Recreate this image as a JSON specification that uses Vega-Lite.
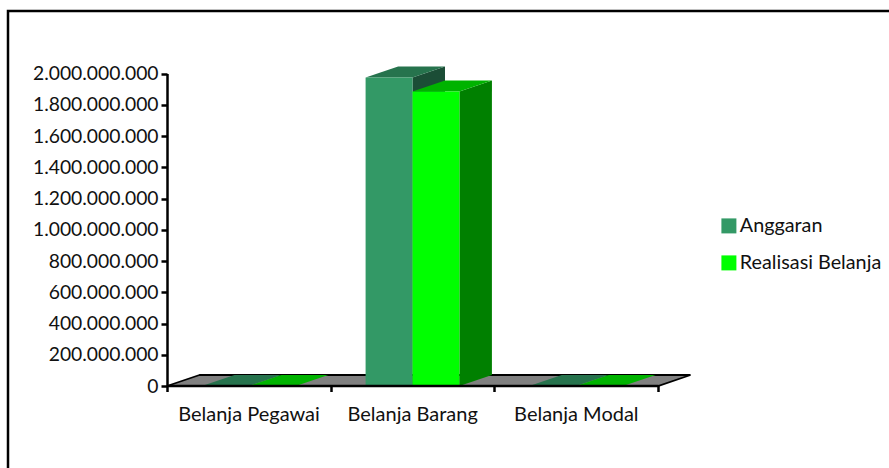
{
"$schema":"https://vega.github.io/schema/vega-lite/v6.json",
"width":890,"height":470,
"autosize":{"type":"none"},
"padding":{"left":8,"top":11,"right":-9,"bottom":-13},
"background":"white",
"view":{"stroke":"black","strokeWidth":2.5,"fill":"white"},
"config":{"axis":{"labelFont":"Lato","labelFontSize":19.3,"labelColor":"#111111","domainColor":"black","tickColor":"black","domainWidth":2.5,"tickWidth":2.5,"tickSize":6,"grid":false,"title":null},
"legend":{"labelFont":"Lato","labelFontSize":19.8,"labelColor":"#111111"}},
"layer":[
{"data":{"values":[{"depth":0},{"depth":1}]},
 "transform":[{"calculate":"0+datum.depth*0.1986","as":"a"},{"calculate":"3+datum.depth*0.1986","as":"b"},{"calculate":"datum.depth*70400000","as":"h"}],
 "mark":{"type":"area","orient":"horizontal","fill":"#808080","stroke":"black","strokeWidth":1.8},
 "encoding":{
  "x":{"field":"a","type":"quantitative","scale":{"domain":[0,3],"range":[159,650],"nice":false,"zero":false},
   "axis":{"orient":"bottom","offset":-95.5,"values":[0,1,2,3],"labelOffset":81.5,"labelPadding":13,"labelFontSize":20,"labelFlush":false,"labelOverlap":false,"labelExpr":"['Belanja Pegawai','Belanja Barang','Belanja Modal',''][datum.value]","zindex":1}},
  "x2":{"field":"b"},
  "y":{"field":"h","type":"quantitative","scale":{"domain":[0,2000000000],"range":[375,62.5],"nice":false,"zero":false},
   "axis":{"orient":"left","offset":-159,"values":[0,200000000,400000000,600000000,800000000,1000000000,1200000000,1400000000,1600000000,1800000000,2000000000],"labelPadding":3,"labelExpr":"replace(format(datum.value,','),/,/g,'.')","zindex":1}}
 }},
{"data":{"values":[
 {"category":"Belanja Pegawai","series":"Anggaran","value":0},
 {"category":"Belanja Pegawai","series":"Realisasi Belanja","value":0},
 {"category":"Belanja Barang","series":"Anggaran","value":1974000000},
 {"category":"Belanja Barang","series":"Realisasi Belanja","value":1885000000},
 {"category":"Belanja Modal","series":"Anggaran","value":0},
 {"category":"Belanja Modal","series":"Realisasi Belanja","value":0}
 ]},
 "transform":[
  {"calculate":"indexof(['Belanja Pegawai','Belanja Barang','Belanja Modal'],datum.category)+0.5+(datum.series=='Anggaran'?-0.2866:0)","as":"left"},
  {"calculate":"datum.left+0.2866","as":"right"},
  {"calculate":"[0,1]","as":"t"},
  {"flatten":["t"]},
  {"calculate":"datum.left+datum.t*0.1986","as":"topA"},
  {"calculate":"datum.right+datum.t*0.1986","as":"topB"},
  {"calculate":"datum.t*70400000","as":"base"},
  {"calculate":"datum.value+datum.base","as":"high"}
 ],
 "layer":[
  {"transform":[{"filter":"datum.series=='Anggaran'"}],"mark":{"type":"area","fill":"#1b4d36"},
   "encoding":{"detail":{"field":"category"},"x":{"field":"topB","type":"quantitative"},"y":{"field":"high","type":"quantitative"},"y2":{"field":"base"}}},
  {"transform":[{"filter":"datum.series=='Anggaran'"}],"mark":{"type":"area","orient":"horizontal","fill":"#26734d"},
   "encoding":{"detail":{"field":"category"},"x":{"field":"topA","type":"quantitative"},"x2":{"field":"topB"},"y":{"field":"high","type":"quantitative"}}},
  {"transform":[{"filter":"datum.series!='Anggaran'"}],"mark":{"type":"area","fill":"#008000"},
   "encoding":{"detail":{"field":"category"},"x":{"field":"topB","type":"quantitative"},"y":{"field":"high","type":"quantitative"},"y2":{"field":"base"}}},
  {"transform":[{"filter":"datum.series!='Anggaran'"}],"mark":{"type":"area","orient":"horizontal","fill":"#00b300"},
   "encoding":{"detail":{"field":"category"},"x":{"field":"topA","type":"quantitative"},"x2":{"field":"topB"},"y":{"field":"high","type":"quantitative"}}},
  {"transform":[{"filter":"datum.t==0"}],"mark":{"type":"rect"},
   "encoding":{"x":{"field":"left","type":"quantitative"},"x2":{"field":"right"},"y":{"field":"value","type":"quantitative"},"y2":{"datum":0},
    "color":{"field":"series","type":"nominal","scale":{"domain":["Anggaran","Realisasi Belanja"],"range":["#339966","#00ff00"]},
     "legend":{"title":null,"orient":"none","legendX":711,"legendY":205,"symbolType":"square","symbolSize":225,"symbolStrokeWidth":0,"symbolOpacity":1,"rowPadding":16,"labelOffset":1}}}}
 ]}
]}
